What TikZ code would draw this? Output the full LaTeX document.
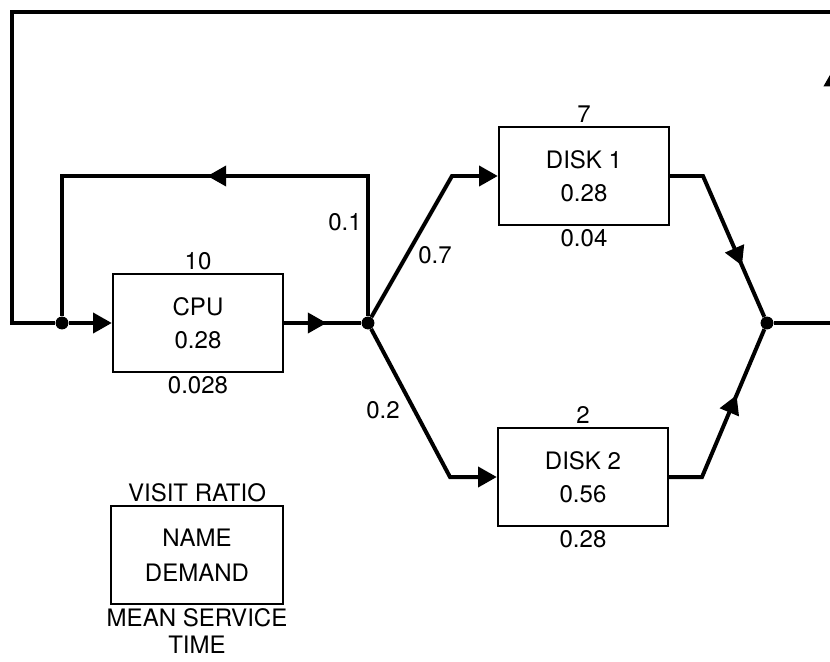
\documentclass[tikz,border=0pt]{standalone}
\usepackage{fontspec}
\setmainfont{TeX Gyre Heros}
\usetikzlibrary{positioning,arrows.meta,decorations.markings}

\begin{document}
\begin{tikzpicture}[
x=0.03cm, y=-0.03cm,
font=\fontsize{20.5}{25}\selectfont,
station/.style={rectangle, draw=black, line width=2pt, minimum width=5.1cm, minimum height=2.95cm, align=center},
junction/.style={circle, fill=black, minimum size=11pt, inner sep=0pt},
flow/.style={black, line width=3.4pt, line join=miter},
tip/.style={-{Triangle[length=16pt,width=17pt]}},
midarrow/.style={decoration={markings, mark=at position #1 with {\arrow{Triangle[length=16pt,width=17pt]}}}, postaction={decorate}},
]
\useasboundingbox (0,0) rectangle (830,661);
\clip (0,0) rectangle (830,661);

%Stations
\node[station] (cpu) at (198,323) {CPU\\[3pt]0.28};
\node[station] (disk1) at (584,176) {DISK 1\\[3pt]0.28};
\node[station] (disk2) at (583,477) {DISK 2\\[3pt]0.56};

%Visit ratios and service times
\node[above=-1pt of cpu] (cpuv) {10};
\node[below=-1pt of cpu] (cpus) {0.028};
\node[above=-1pt of disk1] (disk1v) {7};
\node[below=-1pt of disk1] (disk1s) {0.04};
\node[above=-1pt of disk2] (disk2v) {2};
\node[below=-1pt of disk2] (disk2s) {0.28};

%Junctions
\node[junction] (jin) at (62,323) {};
\node[junction] (jsplit) at (368,323) {};
\node[junction] (jmerge) at (767,323) {};

%Corners
\coordinate (lr) at (368,176);
\coordinate (ll) at (62,176);
\coordinate (u1) at (452,176);
\coordinate (u2) at (703,176);
\coordinate (l1) at (450,477);
\coordinate (l2) at (702,477);
\coordinate (rbr) at (834,323);
\coordinate (rtr) at (834,12);
\coordinate (rtl) at (12,12);
\coordinate (rbl) at (12,323);

%Branch probabilities
\node (p1) at (345,222) {0.1};
\node (p7) at (435,255) {0.7};
\node (p2) at (383,410) {0.2};

%Connections
\draw[flow, tip] (jin) -- (cpu.west);
\draw[flow, midarrow=0.55] (cpu.east) -- (jsplit);
\draw[flow, midarrow=0.513] (jsplit) -- (lr) -- (ll) -- (jin);
\draw[flow, tip] (jsplit) -- (u1) -- (disk1.west);
\draw[flow, tip] (jsplit) -- (l1) -- (disk2.west);
\draw[flow, midarrow=0.70] (disk1.east) -- (u2) -- (jmerge);
\draw[flow, midarrow=0.63] (disk2.east) -- (l2) -- (jmerge);
\draw[flow, midarrow=0.204] (jmerge) -- (rbr) -- (rtr) -- (rtl) -- (rbl) -- (jin);

%Legend
\node[station, minimum width=5.16cm] (legend) at (197,555) {NAME\\[5pt]DEMAND};
\node[above=-1pt of legend] (legv) {VISIT RATIO};
\node[below=-1pt of legend, align=center] (legs) {MEAN SERVICE\\[-2pt]TIME};
\end{tikzpicture}
\end{document}
